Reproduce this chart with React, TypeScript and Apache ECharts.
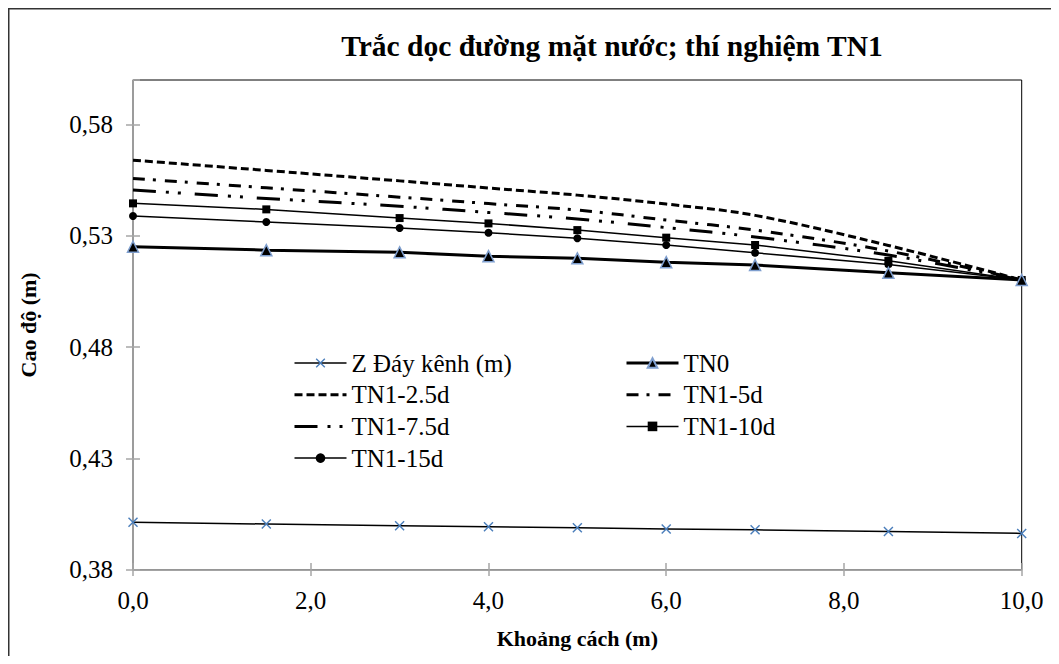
import React, { useEffect, useRef } from "react";
import * as echarts from "echarts";

const xValues = [0, 1.5, 3, 4, 5, 6, 7, 8.5, 10];
const zDayKenh = [0.4014, 0.4006, 0.3998, 0.3994, 0.3989, 0.3984, 0.398, 0.3973, 0.3964];
const tn0 = [0.5251, 0.5236, 0.5226, 0.5209, 0.5199, 0.5182, 0.5169, 0.5134, 0.5102];
const tn1_2_5d = [0.564, 0.5594, 0.5547, 0.5515, 0.5483, 0.5443, 0.5392, 0.5257, 0.5102];
const tn1_5d = [0.5558, 0.5516, 0.5474, 0.5445, 0.5416, 0.5371, 0.5326, 0.5232, 0.5102];
const tn1_7_5d = [0.5506, 0.5468, 0.5433, 0.5405, 0.5376, 0.5337, 0.5295, 0.5214, 0.5102];
const tn1_10d = [0.5446, 0.5419, 0.538, 0.5356, 0.5326, 0.5292, 0.5259, 0.5188, 0.5102];
const tn1_15d = [0.5389, 0.5362, 0.5335, 0.5314, 0.5289, 0.5259, 0.5224, 0.5172, 0.5102];

const seriesNames = [
  "Z Đáy kênh (m)",
  "TN0",
  "TN1-2.5d",
  "TN1-5d",
  "TN1-7.5d",
  "TN1-10d",
  "TN1-15d",
];

const FONT = "Liberation Serif";
const GRAY = "#a6a6a6";
const CROSS = "path://M1,0L5,4L9,0L10,1L6,5L10,9L9,10L5,6L1,10L0,9L4,5L0,1Z";
const HIDDEN = "rgba(0,0,0,0)";

const DASH_25 = [8, 4];
const DASH_5 = [12, 8, 3, 9];
const DASH_75 = [23, 10, 3, 9, 3, 14];

const pairs = (ys: number[]) => xValues.map((x, i) => [x, ys[i]]);

export default function App() {
  const ref = useRef<HTMLDivElement>(null);
  useEffect(() => {
    const chart = echarts.init(ref.current!, null, { renderer: "svg" });
    const baseY = {
      type: "value" as const,
      min: 0.38,
      max: 0.6,
      interval: 0.05,
      splitLine: { show: false },
    };
    const baseX = {
      type: "value" as const,
      min: 0,
      max: 10,
      interval: 2,
      splitLine: { show: false },
    };
    const legendText = { fontFamily: FONT, fontSize: 25, lineHeight: 26, color: "#000" };
    const option: any = {
      animation: false,
      backgroundColor: "#fff",
      textStyle: { fontFamily: FONT },
      title: {
        text: "Trắc dọc đường mặt nước; thí nghiệm TN1",
        left: 599,
        top: 18,
        textAlign: "center",
        textStyle: { fontFamily: FONT, fontSize: 29.5, fontWeight: "bold", color: "#000" },
      },
      graphic: [
        { type: "line", shape: { x1: 0.75, y1: 0, x2: 0.75, y2: 648 }, style: { stroke: "#333", lineWidth: 1.5 } },
        { type: "line", shape: { x1: 0, y1: 0.75, x2: 1043, y2: 0.75 }, style: { stroke: "#333", lineWidth: 1.5 } },
      ],
      grid: {
        left: 125,
        top: 72,
        right: 29.3,
        bottom: 86.1,
        show: true,
        borderColor: "#000",
        borderWidth: 1,
        backgroundColor: "transparent",
      },
      legend: [
        {
          data: [
            { name: seriesNames[0], lineStyle: { width: 1.5 } },
            { name: seriesNames[2], lineStyle: { width: 3 } },
            { name: seriesNames[4], lineStyle: { width: 3 } },
            { name: seriesNames[6], lineStyle: { width: 1.5 } },
          ],
          orient: "vertical",
          left: 285,
          top: 342,
          padding: 0,
          itemWidth: 52,
          itemHeight: 12,
          itemGap: 5.7,
          textStyle: legendText,
        },
        {
          data: [
            { name: seriesNames[1], lineStyle: { width: 3 } },
            { name: seriesNames[3], lineStyle: { width: 3 } },
            { name: seriesNames[5], lineStyle: { width: 1.5 } },
          ],
          orient: "vertical",
          left: 617,
          top: 342,
          padding: 0,
          itemWidth: 52,
          itemHeight: 12,
          itemGap: 5.7,
          textStyle: legendText,
        },
      ],
      xAxis: [
        {
          ...baseX,
          name: "Khoảng cách (m)",
          nameLocation: "middle",
          nameGap: 58,
          nameTextStyle: { fontFamily: FONT, fontSize: 22, fontWeight: "bold", color: "#000" },
          axisLine: { show: true, lineStyle: { color: GRAY, width: 1.5 } },
          axisTick: { show: true, length: 6, lineStyle: { color: GRAY, width: 1.5 } },
          axisLabel: {
            margin: 18,
            fontFamily: FONT,
            fontSize: 25,
            color: "#000",
            formatter: (v: number) => v.toFixed(1).replace(".", ","),
          },
        },
        {
          ...baseX,
          position: "bottom",
          axisLine: { show: false },
          axisTick: { show: true, inside: true, length: 7, lineStyle: { color: GRAY, width: 1.5 } },
          axisLabel: { show: false },
        },
      ],
      yAxis: [
        {
          ...baseY,
          name: "Cao độ (m)",
          nameLocation: "middle",
          nameGap: 94,
          nameTextStyle: { fontFamily: FONT, fontSize: 22, fontWeight: "bold", color: "#000" },
          axisLine: { show: true, lineStyle: { color: GRAY, width: 1.5 } },
          axisTick: { show: true, length: 7, lineStyle: { color: GRAY, width: 1.5 } },
          axisLabel: {
            margin: 20,
            showMaxLabel: false,
            fontFamily: FONT,
            fontSize: 25,
            color: "#000",
            formatter: (v: number) => (Math.abs(v - 0.6) < 1e-6 ? "" : v.toFixed(2).replace(".", ",")),
          },
        },
        {
          ...baseY,
          position: "left",
          axisLine: { show: false },
          axisTick: { show: true, inside: true, length: 7, lineStyle: { color: GRAY, width: 1.5 } },
          axisLabel: { show: false },
        },
      ],
      series: [
        {
          name: seriesNames[0],
          type: "line",
          data: pairs(zDayKenh),
          symbol: CROSS,
          symbolSize: 10,
          itemStyle: { color: "#4a7ebb" },
          lineStyle: { color: "#000", width: 1.5 },
          z: 3,
        },
        {
          name: seriesNames[2],
          type: "line",
          data: pairs(tn1_2_5d),
          symbol: "circle",
          showSymbol: false,
          smooth: 0.35,
          itemStyle: { color: HIDDEN },
          lineStyle: { color: "#000", width: 3, type: DASH_25 },
        },
        {
          name: seriesNames[3],
          type: "line",
          data: pairs(tn1_5d),
          symbol: "circle",
          showSymbol: false,
          smooth: 0.35,
          itemStyle: { color: HIDDEN },
          lineStyle: { color: "#000", width: 3, type: DASH_5 },
        },
        {
          name: seriesNames[4],
          type: "line",
          data: pairs(tn1_7_5d),
          symbol: "circle",
          showSymbol: false,
          smooth: 0.35,
          itemStyle: { color: HIDDEN },
          lineStyle: { color: "#000", width: 3, type: DASH_75 },
        },
        {
          name: seriesNames[5],
          type: "line",
          data: pairs(tn1_10d),
          symbol: "rect",
          symbolSize: 8,
          itemStyle: { color: "#000" },
          lineStyle: { color: "#000", width: 1.5 },
        },
        {
          name: seriesNames[6],
          type: "line",
          data: pairs(tn1_15d),
          symbol: "circle",
          symbolSize: 8,
          itemStyle: { color: "#000" },
          lineStyle: { color: "#000", width: 1.5 },
        },
        {
          name: seriesNames[1],
          type: "line",
          data: pairs(tn0),
          symbol: "triangle",
          symbolSize: 11,
          itemStyle: { color: "#000", borderColor: "#7f9fcf", borderWidth: 1.5 },
          lineStyle: { color: "#000", width: 3 },
          z: 4,
        },
      ],
    };
    chart.setOption(option);
    return () => chart.dispose();
  }, []);
  return <div ref={ref} style={{ width: 1043, height: 648 }} />;
}
